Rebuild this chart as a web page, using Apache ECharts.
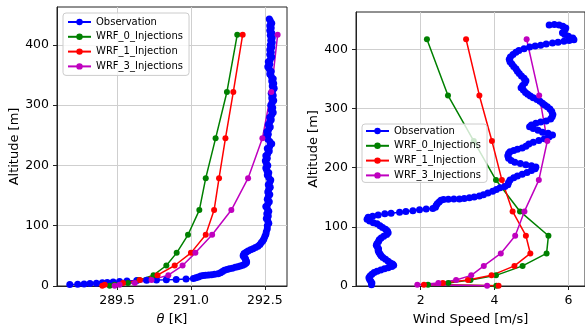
<!DOCTYPE html>
<html>
<head>
<meta charset="utf-8">
<script src="https://cdn.jsdelivr.net/npm/echarts@6/dist/echarts.min.js"></script>
<style>
  html, body { margin: 0; padding: 0; background: #fff; }
  #chart { width: 585px; height: 331px; }
</style>
</head>
<body>
<div id="chart"></div>
<script>
// model levels (m), shared by the three WRF runs
const wrfAlt = [0.5, 2, 5, 10, 18, 34, 55, 85, 126, 179, 245, 322, 417]

// potential temperature (K)
const wrf0Theta = [289.35, 289.45, 289.72, 289.95, 290.24, 290.5, 290.71, 290.94, 291.17, 291.3, 291.5, 291.73, 291.94]
const wrf1Theta = [289.2, 289.25, 289.62, 289.96, 290.32, 290.67, 291.0, 291.3, 291.47, 291.57, 291.7, 291.86, 292.05]
const wrf3Theta = [289.45, 289.55, 289.86, 290.2, 290.54, 290.83, 291.09, 291.43, 291.82, 292.16, 292.45, 292.63, 292.76]

// wind speed (m/s)
const wrf0Wind = [4.05, 2.2, 2.75, 3.35, 4.04, 4.76, 5.41, 5.46, 4.69, 4.04, 3.44, 2.74, 2.17]
const wrf1Wind = [4.11, 2.09, 2.6, 3.28, 3.92, 4.54, 4.97, 4.85, 4.49, 4.2, 3.93, 3.59, 3.23]
const wrf3Wind = [3.8, 1.91, 2.48, 2.96, 3.37, 3.71, 4.17, 4.56, 4.81, 5.2, 5.43, 5.21, 4.87]

// observation profile of theta: [K, m]
const obsTheta = [
  [288.54, 2.6], [288.7, 3.0], [288.83, 3.5], [288.95, 4.0], [289.08, 4.6], [289.2, 5.3],
  [289.3, 6.0], [289.42, 6.8], [289.55, 7.5], [289.7, 8.3], [289.9, 9.0], [290.1, 9.6],
  [290.3, 10.0], [290.5, 10.3], [290.7, 10.8], [290.9, 11.5], [291.05, 12.5], [291.1, 13.5],
  [291.15, 15], [291.2, 16.5], [291.25, 17.5], [291.3, 18], [291.36, 18.3], [291.42, 18.8],
  [291.48, 19.5], [291.55, 20.2], [291.6, 22], [291.64, 24], [291.68, 26], [291.73, 27.5],
  [291.78, 28.5], [291.84, 29.5], [291.9, 31], [291.95, 32], [292.0, 33], [292.05, 34.5],
  [292.09, 36], [292.12, 38], [292.13, 40], [292.12, 42], [292.11, 44], [292.1, 46],
  [292.08, 48], [292.06, 50], [292.07, 52], [292.08, 54], [292.12, 56], [292.16, 58],
  [292.21, 60], [292.26, 62], [292.31, 64], [292.36, 66], [292.4, 69], [292.43, 72],
  [292.46, 75], [292.48, 78], [292.5, 82], [292.52, 86], [292.53, 90], [292.55, 95],
  [292.55, 100], [292.58, 104], [292.56, 108], [292.53, 112], [292.57, 116], [292.54, 120],
  [292.58, 124], [292.55, 128], [292.52, 132], [292.56, 136], [292.59, 140], [292.55, 144],
  [292.57, 148], [292.6, 152], [292.56, 156], [292.58, 160], [292.61, 164], [292.57, 168],
  [292.6, 172], [292.62, 176], [292.58, 180], [292.55, 184], [292.58, 188], [292.54, 192],
  [292.52, 196], [292.56, 200], [292.53, 204], [292.51, 208], [292.55, 212], [292.52, 216],
  [292.56, 220], [292.59, 224], [292.55, 228], [292.6, 232], [292.64, 236], [292.6, 240],
  [292.56, 244], [292.53, 248], [292.57, 252], [292.54, 256], [292.58, 260], [292.61, 264],
  [292.57, 268], [292.6, 272], [292.63, 276], [292.6, 280], [292.64, 284], [292.67, 288],
  [292.63, 292], [292.66, 296], [292.62, 300], [292.65, 304], [292.68, 308], [292.64, 312],
  [292.67, 316], [292.63, 320], [292.66, 324], [292.69, 328], [292.65, 332], [292.68, 336],
  [292.64, 340], [292.67, 344], [292.63, 348], [292.6, 352], [292.63, 356], [292.59, 360],
  [292.56, 364], [292.6, 368], [292.57, 372], [292.61, 376], [292.64, 380], [292.6, 384],
  [292.63, 388], [292.6, 392], [292.64, 396], [292.61, 400], [292.65, 404], [292.62, 408],
  [292.65, 412], [292.61, 416], [292.64, 420], [292.6, 424], [292.63, 428], [292.6, 432],
  [292.64, 436], [292.61, 440], [292.59, 443]
]

// observation profile of wind speed: [m/s, m]
const obsWind = [
  [0.67, 2], [0.68, 5], [0.65, 8], [0.62, 11], [0.6, 14], [0.63, 17], [0.68, 20], [0.74, 23],
  [0.82, 25], [0.92, 27], [1.02, 29], [1.12, 31], [1.22, 33], [1.27, 35], [1.24, 37], [1.18, 39],
  [1.12, 42], [1.05, 45], [0.98, 48], [0.93, 51], [0.9, 54], [0.87, 57], [0.85, 60], [0.86, 63],
  [0.83, 66], [0.8, 69], [0.82, 72], [0.86, 75], [0.88, 78], [0.93, 81], [1.0, 84], [1.08, 87],
  [1.12, 90], [1.1, 93], [1.05, 96], [0.97, 99], [0.9, 102], [0.82, 105], [0.72, 107], [0.62, 110],
  [0.55, 113], [0.58, 116], [0.7, 118], [0.85, 120], [1.03, 122], [1.2, 123], [1.43, 124.5],
  [1.6, 126], [1.79, 127], [1.97, 129], [2.15, 130], [2.33, 131], [2.4, 133], [2.42, 136],
  [2.45, 139], [2.5, 142], [2.55, 145], [2.62, 146], [2.75, 146.5], [2.9, 147], [3.05, 147],
  [3.18, 148], [3.32, 149], [3.45, 150.5], [3.59, 152], [3.7, 154], [3.82, 157], [3.95, 160],
  [4.05, 163], [4.15, 166], [4.28, 168], [4.36, 171], [4.38, 175], [4.42, 179], [4.52, 183],
  [4.62, 186], [4.75, 189], [4.88, 192], [5.0, 195], [5.1, 198], [5.12, 201], [5.0, 203],
  [4.85, 205], [4.7, 207], [4.55, 209], [4.45, 212], [4.38, 216], [4.36, 220], [4.38, 224],
  [4.42, 227], [4.52, 229], [4.62, 231], [4.75, 233], [4.85, 236], [4.93, 240], [5.05, 243],
  [5.2, 246], [5.35, 249], [5.48, 252], [5.57, 255], [5.45, 258], [5.3, 260], [5.18, 263],
  [5.05, 266], [4.95, 269], [5.0, 272], [5.12, 275], [5.25, 277], [5.4, 279], [5.52, 282],
  [5.56, 286], [5.58, 290], [5.55, 295], [5.5, 299], [5.43, 303], [5.36, 306], [5.3, 309],
  [5.23, 312], [5.15, 315], [5.05, 318], [4.97, 321], [4.9, 324], [4.84, 327], [4.78, 331],
  [4.72, 335], [4.76, 339], [4.82, 343], [4.85, 347], [4.8, 351], [4.73, 355], [4.67, 359],
  [4.62, 363], [4.58, 367], [4.52, 371], [4.47, 375], [4.42, 379], [4.4, 383], [4.43, 387],
  [4.5, 391], [4.58, 395], [4.66, 398], [4.8, 401], [4.95, 404], [5.1, 405.5], [5.25, 407],
  [5.4, 409], [5.57, 410.5], [5.72, 412], [5.88, 413.5], [6.02, 415], [6.15, 416], [6.12, 419],
  [6.0, 422], [5.9, 425], [5.84, 428], [5.9, 432], [5.93, 436], [5.85, 439], [5.75, 441],
  [5.62, 442], [5.48, 441]
]

const altTicks = [0, 100, 200, 300, 400]
const thetaTicks = [289.5, 291.0, 292.5]
const windTicks = [2, 4, 6]

const names = ['Observation', 'WRF_0_Injections', 'WRF_1_Injection', 'WRF_3_Injections']
const colors = ['#0000ff', '#008000', '#ff0000', '#bf00bf']

const font = 'DejaVu Sans'

function pairs(xs, ys) {
  return xs.map((x, i) => [x, ys[i]])
}

function valueAxis(gridIndex, min, max, ticks, name, fmt, nameGap) {
  return {
    type: 'value',
    gridIndex: gridIndex,
    min: min,
    max: max,
    name: name,
    nameLocation: 'middle',
    nameGap: nameGap,
    nameTextStyle: {
      fontFamily: font, fontSize: 13, color: '#000',
      rich: { i: { fontFamily: font, fontSize: 13, fontStyle: 'italic', color: '#000' } }
    },
    axisLine: { show: true, lineStyle: { color: '#222', width: 1 } },
    axisTick: { show: true, inside: false, length: 4, customValues: ticks, lineStyle: { color: '#222' } },
    axisLabel: {
      customValues: ticks,
      fontFamily: font, fontSize: 12.5, color: '#000',
      formatter: fmt
    },
    splitLine: { show: true, lineStyle: { color: '#cfcfcf', width: 1 } }
  }
}

function line(name, color, data, gi, size) {
  return {
    name: name,
    type: 'line',
    xAxisIndex: gi,
    yAxisIndex: gi,
    data: data,
    symbol: 'circle',
    symbolSize: size || 6,
    showAllSymbol: true,
    color: color,
    lineStyle: { color: color, width: 1.5 },
    itemStyle: { color: color },
    emphasis: { disabled: true }
  }
}

function legendAt(left, top, pad) {
  return {
    left: left,
    top: top,
    orient: 'vertical',
    itemWidth: 23,
    itemHeight: 8,
    itemGap: 2.8,
    padding: pad,
    backgroundColor: 'rgba(255,255,255,0.8)',
    borderColor: '#cccccc',
    borderWidth: 1,
    borderRadius: 3,
    selectedMode: false,
    textStyle: { fontFamily: font, fontSize: 10, color: '#000', lineHeight: 12 },
    data: names
  }
}

const option = {
  animation: false,
  backgroundColor: '#fff',
  grid: [
    { left: 57, top: 7, width: 230, height: 286, show: true, borderColor: '#222', borderWidth: 1, backgroundColor: 'transparent' },
    { left: 356, top: 12, width: 232, height: 285, show: true, borderColor: '#222', borderWidth: 1, backgroundColor: 'transparent' }
  ],
  legend: [
    legendAt(63, 13, [3, 6, 3, 4]),
    legendAt(362, 124, [1, 6, 1, 3])
  ],
  xAxis: [
    valueAxis(0, 288.28, 292.95, thetaTicks, '{i|\u03b8} [K]', v => v.toFixed(1), 27),
    valueAxis(1, 0.25, 6.45, windTicks, 'Wind Speed [m/s]', v => String(v), 27)
  ],
  yAxis: [
    valueAxis(0, 0, 463, altTicks, 'Altitude [m]', v => String(v), 36),
    valueAxis(1, 0, 463, altTicks, 'Altitude [m]', v => String(v), 36)
  ],
  series: [
    line(names[0], colors[0], obsTheta, 0, 7),
    line(names[1], colors[1], pairs(wrf0Theta, wrfAlt), 0),
    line(names[2], colors[2], pairs(wrf1Theta, wrfAlt), 0),
    line(names[3], colors[3], pairs(wrf3Theta, wrfAlt), 0),
    line(names[0], colors[0], obsWind, 1, 7),
    line(names[1], colors[1], pairs(wrf0Wind, wrfAlt), 1),
    line(names[2], colors[2], pairs(wrf1Wind, wrfAlt), 1),
    line(names[3], colors[3], pairs(wrf3Wind, wrfAlt), 1)
  ]
}

const myChart = echarts.init(document.getElementById('chart'), null, { renderer: 'canvas' })
myChart.setOption(option)
</script>
</body>
</html>
